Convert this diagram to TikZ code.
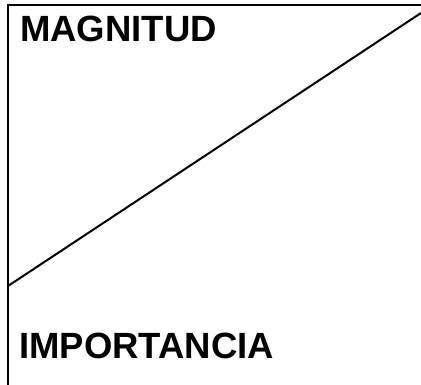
\documentclass[tikz,border=0pt]{standalone}
\usepackage{fontspec}
\setmainfont{Liberation Sans}
\begin{document}
\begin{tikzpicture}[x=1pt,y=-1pt,
  lbl/.style={anchor=base west,inner sep=0pt,font=\fontsize{36.5}{40}\selectfont\bfseries},
  ln/.style={line width=2pt,black}]
\useasboundingbox (0,0) rectangle (421,385);
\coordinate (tl) at (8,5);
\coordinate (tr) at (421,5);
\coordinate (bl) at (8,385);
\coordinate (d1) at (8,286);
\coordinate (d2) at (421,13);
\draw[ln] (tr) -- (tl) -- (bl);
\draw[ln] (d1) -- (d2);
\node[lbl] (mag) at (20,42) {MAGNITUD};
\node[lbl] (imp) at (19,358) {IMPORTANCIA};
\end{tikzpicture}
\end{document}
